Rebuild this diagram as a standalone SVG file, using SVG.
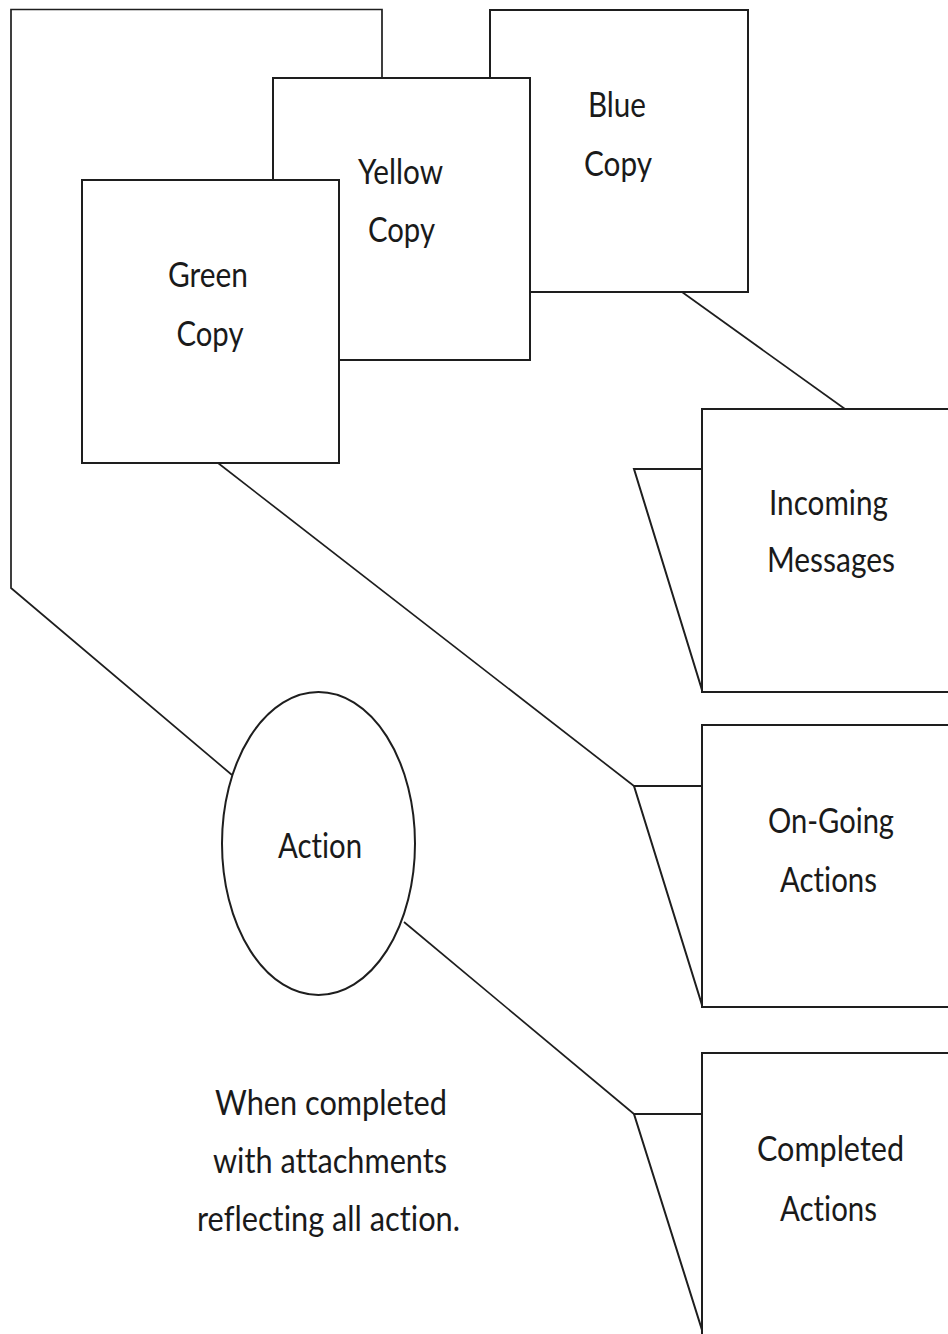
<svg xmlns="http://www.w3.org/2000/svg" width="948" height="1334" viewBox="0 0 948 1334">
  <style>
    .shape { fill: #ffffff; stroke: #1e1e1e; stroke-width: 2; }
    .line { fill: none; stroke: #1e1e1e; stroke-width: 1.7; }
    .label { font-family: "Lato", "Liberation Sans", sans-serif; font-size: 34px; fill: #1a1a1a; text-anchor: middle; font-variant-ligatures: none; font-feature-settings: "liga" 0; }
  </style>
  <rect width="948" height="1334" fill="#ffffff"/>

  <!-- original (white) copy outline, tucked behind the coloured copies -->
  <g id="white-copy">
    <polyline class="line" points="382,78 382,9.5 11,9.5 11,588 232,775"/>
  </g>

  <g id="blue-copy">
    <rect class="shape" x="490" y="10" width="258" height="282"/>
    <text class="label" x="617" y="117" textLength="58" lengthAdjust="spacingAndGlyphs">Blue</text>
    <text class="label" x="618" y="176" textLength="68" lengthAdjust="spacingAndGlyphs">Copy</text>
  </g>

  <g id="yellow-copy">
    <rect class="shape" x="273" y="78" width="257" height="282"/>
    <text class="label" x="400.5" y="184" textLength="85" lengthAdjust="spacingAndGlyphs">Yellow</text>
    <text class="label" x="401.5" y="242" textLength="67" lengthAdjust="spacingAndGlyphs">Copy</text>
  </g>

  <g id="green-copy">
    <rect class="shape" x="82" y="180" width="257" height="283"/>
    <text class="label" x="208" y="287" textLength="80" lengthAdjust="spacingAndGlyphs">Green</text>
    <text class="label" x="210" y="346" textLength="67" lengthAdjust="spacingAndGlyphs">Copy</text>
  </g>

  <!-- connectors -->
  <g id="connectors">
    <line class="line" x1="682" y1="292" x2="845" y2="409"/>
    <line class="line" x1="218" y1="463" x2="634" y2="786"/>
    <line class="line" x1="404" y1="922" x2="634" y2="1114"/>
  </g>

  <g id="incoming-messages">
    <polygon class="shape" points="634,469 702,469 702,690"/>
    <rect class="shape" x="702" y="409" width="260" height="283"/>
    <text class="label" x="828.5" y="515" textLength="119" lengthAdjust="spacingAndGlyphs">Incoming</text>
    <text class="label" x="831" y="572" textLength="128" lengthAdjust="spacingAndGlyphs">Messages</text>
  </g>

  <g id="ongoing-actions">
    <polygon class="shape" points="634,786 702,786 702,1005"/>
    <rect class="shape" x="702" y="725" width="260" height="282"/>
    <text class="label" x="831" y="833" textLength="126" lengthAdjust="spacingAndGlyphs">On-Going</text>
    <text class="label" x="828.5" y="892" textLength="97" lengthAdjust="spacingAndGlyphs">Actions</text>
  </g>

  <g id="completed-actions">
    <polygon class="shape" points="634,1114 702,1114 702,1330"/>
    <rect class="shape" x="702" y="1053" width="260" height="300"/>
    <text class="label" x="830.5" y="1161" textLength="147" lengthAdjust="spacingAndGlyphs">Completed</text>
    <text class="label" x="828.5" y="1221" textLength="97" lengthAdjust="spacingAndGlyphs">Actions</text>
  </g>

  <g id="action">
    <ellipse class="shape" cx="318.5" cy="843.5" rx="96.5" ry="151.5"/>
    <text class="label" x="320" y="858" textLength="84" lengthAdjust="spacingAndGlyphs">Action</text>
  </g>

  <g id="note">
    <text class="label" x="331" y="1115" textLength="232" lengthAdjust="spacingAndGlyphs">When completed</text>
    <text class="label" x="330" y="1173" textLength="234" lengthAdjust="spacingAndGlyphs">with attachments</text>
    <text class="label" x="328.5" y="1231" textLength="263" lengthAdjust="spacingAndGlyphs">reflecting all action.</text>
  </g>
</svg>
